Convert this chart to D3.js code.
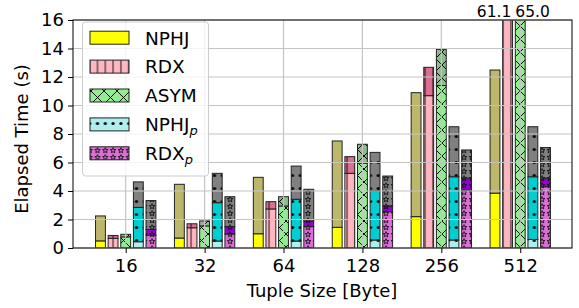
<!DOCTYPE html>
<meta charset="utf-8">
<style>
    body { margin: 0; background: #fff; }
    text { font-family: "DejaVu Sans", sans-serif; fill: #000; }
    .tick text { font-size: 18px; }
    .grid line { stroke: #c4c4c4; stroke-width: 1.2; }
</style>
<svg width="579" height="308"></svg>
<script src="https://d3js.org/d3.v7.min.js"></script>
<script>

    // tuple sizes (x categories)
    var categories = ["16", "32", "64", "128", "256", "512"];
    var yTicks = [0, 2, 4, 6, 8, 10, 12, 14, 16];

    // elapsed time per phase (s), bottom segment first
    var nphjPart = [0.5, 0.7, 1.0, 1.45, 2.2, 3.85];
    var nphjJoin = [1.75, 3.77, 3.96, 6.06, 8.7, 8.64];
    var rdxPart = [0.68, 1.42, 2.74, 5.24, 10.69, 52.0];
    var rdxJoin = [0.2, 0.28, 0.51, 1.17, 1.99, 9.1];
    var asymPart = [0.78, 1.55, 2.95, 5.95, 11.4, 53.0];
    var asymJoin = [0.18, 0.35, 0.65, 1.33, 2.54, 12.0];
    var nphjpA = [0.44, 0.49, 0.49, 0.56, 0.56, 0.6];
    var nphjpB = [2.41, 2.69, 2.93, 3.46, 4.44, 4.4];
    var nphjpC = [1.79, 2.06, 2.33, 2.69, 3.51, 3.51];
    var rdxpA = [0.9, 0.98, 1.5, 2.55, 4.05, 4.3];
    var rdxpB = [0.4, 0.52, 0.4, 0.4, 0.85, 0.6];
    var rdxpC = [2.03, 2.1, 2.22, 2.1, 1.98, 2.15];

    var series = [
        {name: "NPHJ", sub: null, hatch: "none", segs: [nphjPart, nphjJoin], colors: ["#ffff00", "#bdb76b"]},
        {name: "RDX", sub: null, hatch: "vline", segs: [rdxPart, rdxJoin], colors: ["#ffb6c1", "#db7093"]},
        {name: "ASYM", sub: null, hatch: "cross", segs: [asymPart, asymJoin], colors: ["#90ee90", "#8fbc8f"]},
        {name: "NPHJ", sub: "p", hatch: "dot", segs: [nphjpA, nphjpB, nphjpC], colors: ["#afeeee", "#00ced1", "#808080"]},
        {name: "RDX", sub: "p", hatch: "star", segs: [rdxpA, rdxpB, rdxpC], colors: ["#da70d6", "#9400d3", "#808080"]}
    ];

    var svg = d3.select("svg"),
            pLeft = 73, pRight = 572, pTop = 20, pBottom = 248;

    var x = d3.scaleLinear().domain([-0.668, 5.656]).range([pLeft, pRight]);
    var y = d3.scaleLinear().domain([0, 16]).range([pBottom, pTop]);

    var barStep = 0.16, barWidth = 0.125;

    var defs = svg.append("defs");
    defs.append("clipPath").attr("id", "plotclip")
            .append("rect").attr("x", pLeft).attr("y", pTop)
            .attr("width", pRight - pLeft).attr("height", pBottom - pTop);

    var patCount = 0;
    function pattern(color, hatch) {
        if (hatch === "none") return color;
        var id = "pat" + (patCount++);
        var w = 7.8, h = 13;
        if (hatch === "cross") { w = 13; h = 13; }
        if (hatch === "star") { w = 7.8; h = 7; }
        var p = defs.append("pattern").attr("id", id)
                .attr("patternUnits", "userSpaceOnUse")
                .attr("width", w).attr("height", h);
        p.append("rect").attr("width", w).attr("height", h).attr("fill", color);
        if (hatch === "vline") {
            p.append("line").attr("x1", w / 2).attr("x2", w / 2).attr("y1", 0).attr("y2", h)
                    .attr("stroke", "#000").attr("stroke-width", 0.9);
        } else if (hatch === "cross") {
            p.append("path").attr("d", "M0,0L13,13M0,13L13,0")
                    .attr("stroke", "#000").attr("stroke-width", 1);
        } else if (hatch === "dot") {
            p.append("circle").attr("cx", w / 2).attr("cy", h / 2).attr("r", 1.6).attr("fill", "#000");
        } else if (hatch === "star") {
            var pts = [];
            for (var k = 0; k < 10; k++) {
                var r = k % 2 ? 1.2 : 2.9, a = Math.PI * k / 5 - Math.PI / 2;
                pts.push([w / 2 + r * Math.cos(a), h / 2 + r * Math.sin(a)]);
            }
            p.append("path").attr("d", "M" + pts.join("L") + "Z")
                    .attr("fill", "none").attr("stroke", "#000").attr("stroke-width", 0.8);
        }
        return "url(#" + id + ")";
    }

    // bars
    var bars = svg.append("g").attr("clip-path", "url(#plotclip)");
    series.forEach(function(s, i) {
        var fills = s.colors.map(function(c) { return pattern(c, s.hatch); });
        categories.forEach(function(c, j) {
            var base = 0;
            s.segs.forEach(function(seg, k) {
                var v = seg[j];
                var x0 = x(j + (i - 2) * barStep - barWidth / 2);
                bars.append("rect")
                        .attr("x", x0)
                        .attr("width", x(barWidth) - x(0))
                        .attr("y", y(base + v))
                        .attr("height", y(base) - y(base + v))
                        .attr("fill", fills[k])
                        .attr("stroke", "#222")
                        .attr("stroke-width", 1);
                base += v;
            });
        });
    });

    // grid on top of bars
    var grid = svg.append("g").attr("class", "grid");
    grid.selectAll(".gy").data(yTicks).enter().append("line")
            .attr("x1", pLeft).attr("x2", pRight)
            .attr("y1", function(d) { return y(d); }).attr("y2", function(d) { return y(d); });
    grid.selectAll(".gx").data(categories).enter().append("line")
            .attr("y1", pTop).attr("y2", pBottom)
            .attr("x1", function(d, j) { return x(j); }).attr("x2", function(d, j) { return x(j); });

    // frame
    svg.append("rect").attr("x", pLeft).attr("y", pTop)
            .attr("width", pRight - pLeft).attr("height", pBottom - pTop)
            .attr("fill", "none").attr("stroke", "#000").attr("stroke-width", 1);

    // axes
    svg.append("g").attr("transform", "translate(" + pLeft + ",0)")
            .call(d3.axisLeft(y).tickValues(yTicks).tickSize(5).tickPadding(4));
    svg.append("g").attr("transform", "translate(0," + pBottom + ")")
            .call(d3.axisBottom(x).tickValues(d3.range(categories.length))
                    .tickFormat(function(d) { return categories[d]; }).tickSize(5).tickPadding(6));
    svg.selectAll(".domain").remove();
    svg.selectAll(".tick text").attr("font-family", null).attr("font-size", null);
    svg.selectAll(".tick line").attr("stroke", "#000");

    svg.append("text").attr("x", 322).attr("y", 297)
            .attr("text-anchor", "middle").style("font-size", "18px")
            .text("Tuple Size [Byte]");
    svg.append("text").attr("transform", "translate(28,139) rotate(-90)")
            .attr("text-anchor", "middle").style("font-size", "18px")
            .text("Elapsed Time (s)");

    // values of the clipped bars
    var j5 = 5, asymLeft = x(j5 - barWidth / 2);
    svg.append("text")
            .attr("x", asymLeft - 4).attr("y", 17)
            .attr("text-anchor", "end").style("font-size", "15.5px")
            .text(d3.format(".1f")(rdxPart[j5] + rdxJoin[j5]));
    svg.append("text")
            .attr("x", asymLeft).attr("y", 17)
            .attr("text-anchor", "start").style("font-size", "15.5px")
            .text(d3.format(".1f")(asymPart[j5] + asymJoin[j5]));

    // legend
    var lg = svg.append("g");
    lg.append("rect").attr("x", 82.5).attr("y", 22).attr("width", 126).attr("height", 154)
            .attr("rx", 3).attr("fill", "#fff").attr("fill-opacity", 0.8)
            .attr("stroke", "#ccc").attr("stroke-width", 1);
    series.forEach(function(s, i) {
        var cy = 37.7 + i * 28.9;
        lg.append("rect").attr("x", 90).attr("y", cy - 6.5).attr("width", 39).attr("height", 13)
                .attr("fill", pattern(s.colors[0], s.hatch))
                .attr("stroke", "#222").attr("stroke-width", 1);
        var t = lg.append("text").attr("x", 145).attr("y", cy + 6.8).style("font-size", "18.5px").text(s.name);
        if (s.sub) {
            t.append("tspan").attr("dy", 4).style("font-size", "13px").style("font-style", "italic").text(s.sub);
        }
    });

</script>
